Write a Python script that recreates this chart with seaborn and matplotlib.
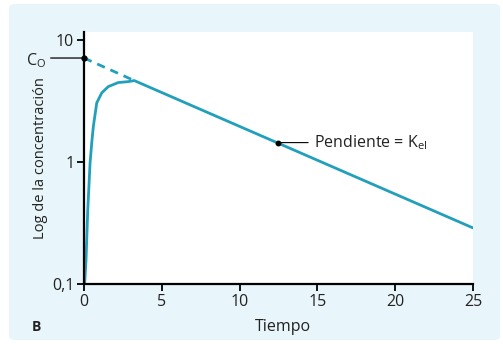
import matplotlib
matplotlib.use("Agg")
import matplotlib.pyplot as plt
from matplotlib.patches import FancyBboxPatch
import seaborn as sns

tiempo = [0.04, 0.13, 0.24, 0.39, 0.50, 0.60, 0.82, 1.14, 1.56, 2.20, 2.85, 3.23, 25.0]
conc = [0.10, 0.157, 0.40, 0.98, 1.45, 1.95, 3.05, 3.68, 4.14, 4.47, 4.55, 4.64, 0.288]

# extrapolación a t=0 (línea discontinua)
extrap_t = [0.0, 3.23]
extrap_c = [7.1, 4.64]

c0 = 7.1
kel_t, kel_c = 12.47, 1.44

xticks = [0, 5, 10, 15, 20, 25]
yticks = [0.1, 1, 10]
ytick_labels = ["0,1", "1", "10"]

teal = "#22a0bb"
bg = "#e8f5fa"

sns.set_style("ticks")
plt.rcParams["font.family"] = ["Open Sans", "DejaVu Sans"]
plt.rcParams["mathtext.fontset"] = "custom"
plt.rcParams["mathtext.rm"] = "Open Sans"

fig = plt.figure(figsize=(5.03, 3.44), dpi=100)
fig.patch.set_facecolor("white")
fig.patches.append(FancyBboxPatch((9 / 503, 4 / 344), 491 / 503, 336 / 344,
                                  boxstyle="round,pad=0,rounding_size=0.012",
                                  transform=fig.transFigure, facecolor=bg,
                                  edgecolor="none", zorder=-10))
ax = fig.add_axes([84 / 503, 1 - 284 / 344, 389 / 503, 252 / 344])
ax.set_facecolor("white")

sns.lineplot(x=tiempo, y=conc, ax=ax, color=teal, lw=2, sort=False, clip_on=True)
sns.lineplot(x=extrap_t, y=extrap_c, ax=ax, color=teal, lw=2, linestyle=(0, (3, 2.2)))

ax.set_yscale("log")
ax.set_xlim(0, 25)
ax.set_ylim(0.1, 11.6)
ax.set_xticks(xticks)
ax.set_xticklabels([str(v) for v in xticks], fontsize=11.5)
ax.set_yticks(yticks)
ax.set_yticklabels(ytick_labels, fontsize=11.5)
ax.yaxis.set_minor_locator(matplotlib.ticker.NullLocator())
ax.tick_params(axis="both", direction="out", length=5, width=1.3, color="black",
               pad=2, labelcolor="#222222")
for s in ["top", "right"]:
    ax.spines[s].set_visible(False)
for s in ["left", "bottom"]:
    ax.spines[s].set_linewidth(1.6)
    ax.spines[s].set_color("black")

ax.set_xlabel("")
ax.set_ylabel("Log de la concentración", fontsize=10.5, labelpad=3, color="#222222")

# C0
ax.plot([0], [c0], "o", color="black", ms=3.5, clip_on=False, zorder=5)
ax.annotate("", xy=(0, c0), xytext=(-24, 0), textcoords="offset points",
            arrowprops=dict(arrowstyle="-", color="black", lw=0.9, shrinkA=0, shrinkB=0),
            annotation_clip=False)
ax.annotate("C$_\\mathregular{O}$", xy=(0, c0), xytext=(-27, -2),
            textcoords="offset points", ha="right", va="center",
            fontsize=11.5, color="#222222", annotation_clip=False)

# pendiente
ax.plot([kel_t], [kel_c], "o", color="black", ms=3.2, zorder=5)
ax.annotate("Pendiente = K$_\\mathregular{el}$", xy=(kel_t, kel_c), xytext=(26, 0),
            textcoords="offset points", ha="left", va="center", fontsize=11.5,
            color="#222222",
            arrowprops=dict(arrowstyle="-", color="black", lw=0.8, shrinkA=2, shrinkB=0))

fig.text(283 / 503, 1 - 327 / 344, "Tiempo", ha="center", va="center", fontsize=11.5,
         color="#222222")
fig.text(36 / 503, 1 - 327 / 344, "B", ha="center", va="center", fontsize=10,
         fontweight="bold", color="#222222")

fig.savefig("out.png", dpi=100, facecolor=fig.get_facecolor())
